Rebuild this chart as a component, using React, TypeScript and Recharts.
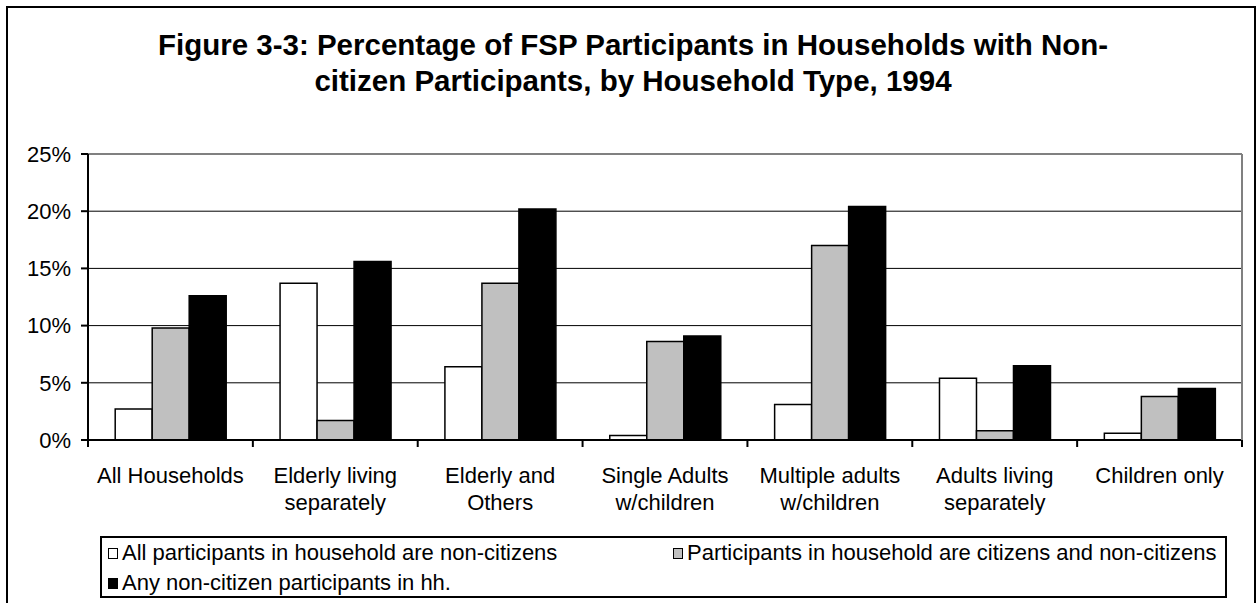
import React from 'react';
import { BarChart, Bar, XAxis, YAxis, CartesianGrid, Legend, ReferenceLine } from 'recharts';

const categories = [
  'All Households',
  'Elderly living\nseparately',
  'Elderly and\nOthers',
  'Single Adults\nw/children',
  'Multiple adults\nw/children',
  'Adults living\nseparately',
  'Children only',
];
const allNonCitizens = [2.7, 13.7, 6.4, 0.4, 3.1, 5.4, 0.6];
const mixedHouseholds = [9.8, 1.7, 13.7, 8.6, 17.0, 0.8, 3.8];
const anyNonCitizen = [12.6, 15.6, 20.2, 9.1, 20.4, 6.5, 4.5];
const seriesNames = [
  'All participants in household are non-citizens',
  'Participants in household are citizens and non-citizens',
  'Any non-citizen participants in hh.',
];
const seriesColors = ['#ffffff', '#c0c0c0', '#000000'];
const yTicks = [0, 5, 10, 15, 20, 25];

const data = categories.map((name, i) => ({
  name,
  a: allNonCitizens[i],
  b: mixedHouseholds[i],
  c: anyNonCitizen[i],
}));

const FONT = '"Liberation Sans", Arial, Helvetica, sans-serif';

// excel style: tick marks sit between the categories
const CategoryTick = (props: any) => {
  const { x, y, payload, index, visibleTicksCount } = props;
  const half = payload.offset || 82.4;
  const lines = String(payload.value).split('\n');
  return (
    <g>
      <line x1={x - half} x2={x - half} y1={y} y2={y + 7} stroke="#000" strokeWidth={2} />
      {index === visibleTicksCount - 1 && (
        <line x1={x + half} x2={x + half} y1={y} y2={y + 7} stroke="#000" strokeWidth={2} />
      )}
      <text x={x} y={y + 43} textAnchor="middle" fontSize={22} fontFamily={FONT} fill="#000">
        {lines.map((l, i) => (
          <tspan key={i} x={x} dy={i === 0 ? 0 : 27}>{l}</tspan>
        ))}
      </text>
    </g>
  );
};

const LegendBox = () => (
  <div
    style={{
      boxSizing: 'border-box',
      width: 1127,
      height: 62,
      border: '2px solid #000',
      background: '#fff',
      padding: '0 0 0 6px',
      display: 'grid',
      gridTemplateColumns: '565px auto',
      gridAutoRows: '30px',
      fontFamily: FONT,
      fontSize: 22,
      color: '#000',
    }}
  >
    {seriesNames.map((n, i) => (
      <div key={n} style={{ display: 'flex', alignItems: 'center', whiteSpace: 'nowrap' }}>
        <span
          style={{
            display: 'inline-block',
            boxSizing: 'border-box',
            width: 10,
            height: 11,
            border: '1.5px solid #000',
            background: seriesColors[i],
            marginRight: 4,
          }}
        />
        {n}
      </div>
    ))}
  </div>
);

export default function App() {
  return (
    <div style={{ position: 'absolute', left: 0, top: 0, width: 1259, height: 603, overflow: 'hidden', background: '#fff' }}>
      <div
        style={{
          position: 'absolute',
          left: 6,
          top: 6,
          width: 1250,
          height: 620,
          boxSizing: 'border-box',
          borderTop: '2px solid #000',
          borderLeft: '2px solid #000',
          borderRight: '2px solid #000',
        }}
      />
      <div
        style={{
          position: 'absolute',
          left: 8,
          width: 1250,
          top: 27,
          textAlign: 'center',
          fontFamily: FONT,
          fontWeight: 'bold',
          fontSize: 29.5,
          lineHeight: '36px',
          color: '#000',
        }}
      >
        Figure 3-3: Percentage of FSP Participants in Households with Non-
        <br />
        citizen Participants, by Household Type, 1994
      </div>
      <div style={{ position: 'absolute', left: 0, top: 0 }}>
        <BarChart
          width={1259}
          height={603}
          data={data}
          margin={{ top: 154, right: 16, bottom: 103, left: 28 }}
          barCategoryGap="16.5%"
          barGap={0}
        >
          <CartesianGrid vertical={false} horizontalValues={[5, 10, 15, 20]} stroke="#000" strokeWidth={1} />
          <XAxis
            dataKey="name"
            interval={0}
            height={60}
            tick={<CategoryTick />}
            tickLine={false}
            tickSize={0}
            tickMargin={0}
            axisLine={{ stroke: '#000', strokeWidth: 2 }}
          />
          <YAxis
            domain={[0, 25]}
            ticks={yTicks}
            width={60}
            tickFormatter={(v: number) => `${v}%`}
            tickSize={7}
            tickMargin={10}
            tickLine={{ stroke: '#000', strokeWidth: 2 }}
            axisLine={{ stroke: '#000', strokeWidth: 2 }}
            tick={{ fill: '#000', fontSize: 22, fontFamily: FONT }}
          />
          <YAxis
            yAxisId="frame"
            orientation="right"
            domain={[0, 25]}
            width={1}
            tick={false}
            tickLine={false}
            axisLine={{ stroke: '#808080', strokeWidth: 2 }}
          />
          <ReferenceLine y={25} stroke="#808080" strokeWidth={2} />
          <Bar dataKey="a" name={seriesNames[0]} fill={seriesColors[0]} stroke="#000" strokeWidth={1.5} isAnimationActive={false} />
          <Bar dataKey="b" name={seriesNames[1]} fill={seriesColors[1]} stroke="#000" strokeWidth={1.5} isAnimationActive={false} />
          <Bar dataKey="c" name={seriesNames[2]} fill={seriesColors[2]} stroke="#000" strokeWidth={1.5} isAnimationActive={false} />
          <Legend
            layout="vertical"
            align="center"
            verticalAlign="middle"
            content={<LegendBox />}
            wrapperStyle={{ left: 100, top: 536, width: 1127, height: 62 }}
          />
        </BarChart>
      </div>
    </div>
  );
}
